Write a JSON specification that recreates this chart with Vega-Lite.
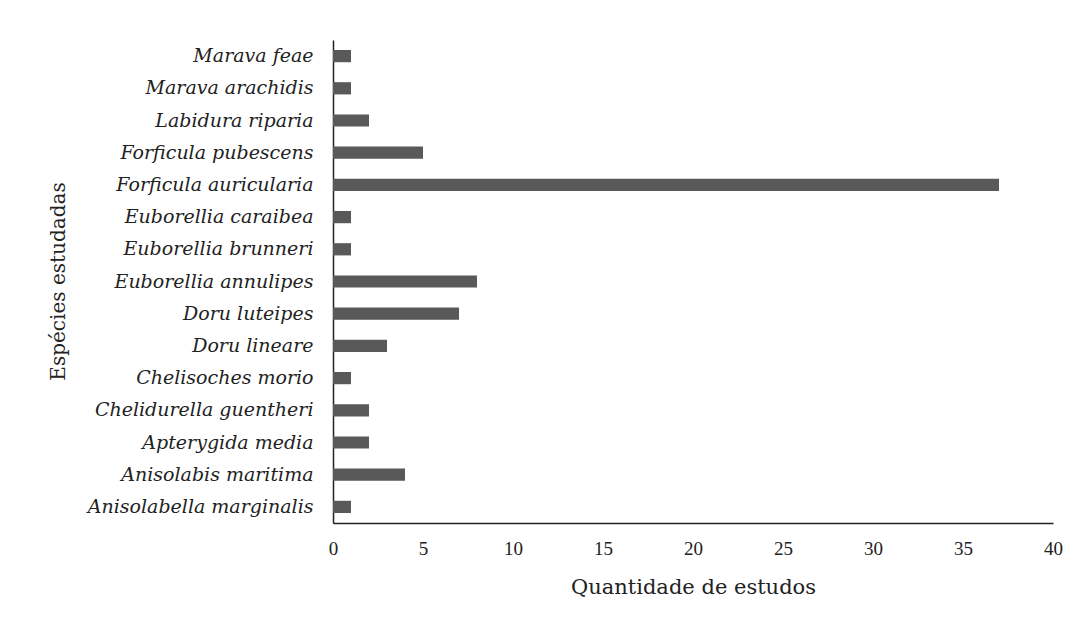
{
  "$schema": "https://vega.github.io/schema/vega-lite/v6.json",
  "autosize": "none",
  "width": 720,
  "height": 483,
  "padding": {"left": 333, "top": 40, "right": 30, "bottom": 109},
  "background": "white",
  "data": {
    "values": [
      {"especie": "Marava feae", "estudos": 1},
      {"especie": "Marava arachidis", "estudos": 1},
      {"especie": "Labidura riparia", "estudos": 2},
      {"especie": "Forficula pubescens", "estudos": 5},
      {"especie": "Forficula auricularia", "estudos": 37},
      {"especie": "Euborellia caraibea", "estudos": 1},
      {"especie": "Euborellia brunneri", "estudos": 1},
      {"especie": "Euborellia annulipes", "estudos": 8},
      {"especie": "Doru luteipes", "estudos": 7},
      {"especie": "Doru lineare", "estudos": 3},
      {"especie": "Chelisoches morio", "estudos": 1},
      {"especie": "Chelidurella guentheri", "estudos": 2},
      {"especie": "Apterygida media", "estudos": 2},
      {"especie": "Anisolabis maritima", "estudos": 4},
      {"especie": "Anisolabella marginalis", "estudos": 1}
    ]
  },
  "mark": {"type": "bar", "color": "#595959"},
  "encoding": {
    "y": {
      "field": "especie",
      "type": "nominal",
      "sort": null,
      "scale": {"paddingInner": 0.62, "paddingOuter": 0.31},
      "axis": {
        "title": "Espécies estudadas",
        "titleFont": "DejaVu Serif",
        "titleFontWeight": "normal",
        "titleFontSize": 20,
        "titleColor": "#222222",
        "titleX": -265,
        "titleY": 241,
        "titleAlign": "center",
        "titleBaseline": "bottom",
        "titleAngle": -90,
        "labelFont": "DejaVu Serif",
        "labelFontStyle": "italic",
        "labelFontSize": 19,
        "labelLimit": 320,
        "labelColor": "#222222",
        "labelPadding": 20,
        "ticks": false,
        "domainColor": "#222222",
        "domainWidth": 1.5,
        "grid": false
      }
    },
    "x": {
      "field": "estudos",
      "type": "quantitative",
      "scale": {"domain": [0, 40], "nice": false},
      "axis": {
        "values": [0, 5, 10, 15, 20, 25, 30, 35, 40],
        "title": "Quantidade de estudos",
        "titleFont": "DejaVu Serif",
        "titleFontWeight": "normal",
        "titleFontSize": 21,
        "titleColor": "#222222",
        "titlePadding": 18,
        "labelFont": "Liberation Serif",
        "labelFontSize": 19,
        "labelFlush": false,
        "labelColor": "#222222",
        "labelPadding": 16,
        "ticks": false,
        "domainColor": "#222222",
        "domainWidth": 1.5,
        "grid": false
      }
    }
  },
  "config": {"view": {"stroke": null}}
}
